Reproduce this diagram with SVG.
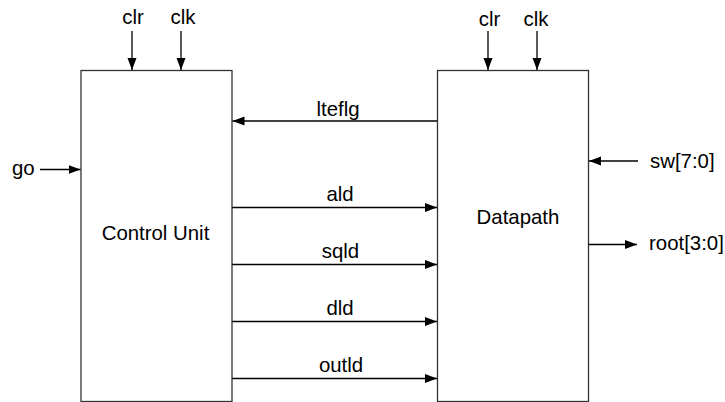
<svg xmlns="http://www.w3.org/2000/svg" width="725" height="402" viewBox="0 0 725 402">
<defs>
<marker id="ah" markerWidth="13" markerHeight="10" refX="12" refY="5" orient="auto" markerUnits="userSpaceOnUse">
<path d="M0,0.5 L12,5 L0,9.5 z" fill="#000"/>
</marker>
<style>
text{font-family:"Liberation Sans",Arial,sans-serif;font-size:20.4px;fill:#000}
.box{fill:#fff;stroke:#333;stroke-width:1.3}
.c{stroke:#000;stroke-width:1.3;fill:none;marker-end:url(#ah)}
.m{text-anchor:middle}
</style>
</defs>
<g id="control-unit">
<rect class="box" x="81" y="70.5" width="151" height="331"/>
<text class="m" x="155.5" y="240">Control Unit</text>
</g>
<g id="datapath">
<rect class="box" x="437.5" y="70.5" width="151" height="331"/>
<text class="m" x="518" y="224">Datapath</text>
</g>
<g id="connectors">
<line class="c" x1="132" y1="31" x2="132" y2="70"/>
<line class="c" x1="181" y1="31" x2="181" y2="70"/>
<line class="c" x1="488" y1="31" x2="488" y2="70"/>
<line class="c" x1="537" y1="31" x2="537" y2="70"/>
<line class="c" x1="40" y1="169.5" x2="80.5" y2="169.5"/>
<line class="c" x1="437" y1="121" x2="232.5" y2="121"/>
<line class="c" x1="232" y1="207.5" x2="437" y2="207.5"/>
<line class="c" x1="232" y1="264.5" x2="437" y2="264.5"/>
<line class="c" x1="232" y1="321.5" x2="437" y2="321.5"/>
<line class="c" x1="232" y1="378.5" x2="437" y2="378.5"/>
<line class="c" x1="638" y1="161" x2="589" y2="161"/>
<line class="c" x1="588.5" y1="244.5" x2="637" y2="244.5"/>
</g>
<g id="labels">
<text class="m" x="133" y="24">clr</text>
<text class="m" x="183" y="24">clk</text>
<text class="m" x="489.5" y="26">clr</text>
<text class="m" x="536" y="26">clk</text>
<text x="12" y="175">go</text>
<text class="m" x="338" y="116">lteflg</text>
<text class="m" x="340" y="201">ald</text>
<text class="m" x="340.5" y="258">sqld</text>
<text class="m" x="340" y="315">dld</text>
<text class="m" x="341" y="372">outld</text>
<text x="650" y="168">sw[7:0]</text>
<text x="649" y="250">root[3:0]</text>
</g>
</svg>
